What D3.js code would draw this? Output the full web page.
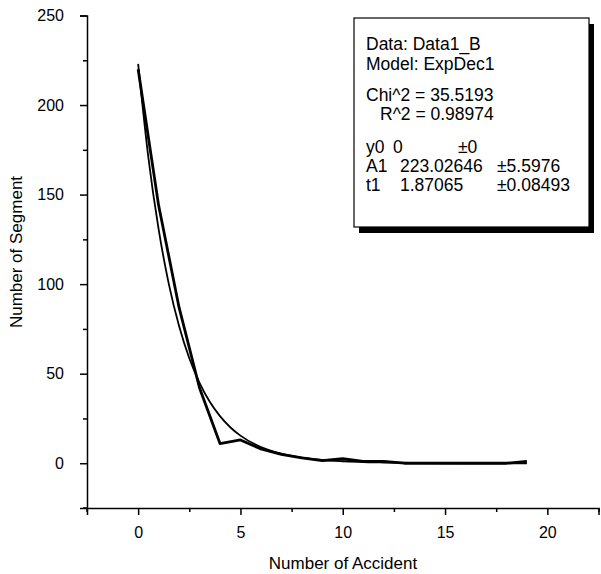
<!DOCTYPE html>
<html>
<head>
<meta charset="utf-8">
<script src="https://cdn.jsdelivr.net/npm/d3@7"></script>
<style>
  html, body { margin: 0; padding: 0; background: #fff; }
  svg { display: block; font-family: "Liberation Sans", Arial, sans-serif; }
</style>
</head>
<body>
<svg id="chart" width="601" height="574"></svg>
<script>
// ---- data ----
const accidents = [0, 1, 2, 3, 4, 5, 6, 7, 8, 9, 10, 11, 12, 13, 14, 15, 16, 17, 18, 19];
const segments  = [220, 144, 87, 42, 11, 13, 8, 5, 3, 1.5, 2.5, 1, 1, 0, 0, 0, 0, 0, 0, 1];

const fitX = [0, 0.5, 1, 1.5, 2, 2.5, 3, 3.5, 4, 4.5, 5, 6, 7, 8, 9, 10, 12, 14, 16, 19];
const fitY = [223.0, 170.7, 130.7, 100.0, 76.6, 58.6, 44.9, 34.3, 26.3, 20.1, 15.4, 9.0, 5.3, 3.1, 1.8, 1.1, 0.4, 0.1, 0.0, 0.0];

const xMajorTicks = [0, 5, 10, 15, 20];
const xMinorTicks = [2.5, 7.5, 12.5, 17.5, 22.5];
const yMajorTicks = [0, 50, 100, 150, 200, 250];
const yMinorTicks = [25, 75, 125, 175, 225];

const legendLines = [
  ["Data: Data1_B"],
  ["Model: ExpDec1"],
  ["Chi^2 = 35.5193"],
  ["R^2 = 0.98974"],
  ["y0", "0", "\u00b10"],
  ["A1", "223.02646", "\u00b15.5976"],
  ["t1", "1.87065", "\u00b10.08493"]
];

const xTitle = "Number of Accident";
const yTitle = "Number of Segment";

// ---- layout ----
const svg = d3.select("#chart");
const x = d3.scaleLinear().domain([-2.5, 22.5]).range([87, 598.5]);
const y = d3.scaleLinear().domain([-25, 250]).range([508, 15.5]);

// axes
const xAxis = svg.append("g").attr("transform", `translate(0,${y(-25)})`)
  .call(d3.axisBottom(x).tickValues(xMajorTicks).tickSize(7).tickPadding(12).tickFormat(d3.format("d")));
const xAxisMinor = svg.append("g").attr("transform", `translate(0,${y(-25)})`)
  .call(d3.axisBottom(x).tickValues(xMinorTicks).tickSize(4).tickFormat(""));
const yAxis = svg.append("g").attr("transform", `translate(${x(-2.5)},0)`)
  .call(d3.axisLeft(y).tickValues(yMajorTicks).tickSize(7).tickPadding(16).tickFormat(d3.format("d")));
const yAxisMinor = svg.append("g").attr("transform", `translate(${x(-2.5)},0)`)
  .call(d3.axisLeft(y).tickValues(yMinorTicks).tickSize(4).tickFormat(""));

[xAxis, xAxisMinor, yAxis, yAxisMinor].forEach(g => {
  g.select(".domain").attr("stroke", "#000").attr("stroke-width", 1.5);
  g.selectAll(".tick line").attr("stroke", "#000").attr("stroke-width", 1.5);
  g.selectAll(".tick text").attr("fill", "#000").attr("font-size", 16)
    .attr("font-family", "'Liberation Sans', Arial, sans-serif");
});
xAxisMinor.select(".domain").remove();
yAxisMinor.select(".domain").remove();
// extend x axis line slightly left of the y axis, y axis slightly below x axis
svg.append("line").attr("x1", x(-2.5) - 4).attr("x2", x(-2.5)).attr("y1", y(-25)).attr("y2", y(-25))
  .attr("stroke", "#000").attr("stroke-width", 1.5);
svg.append("line").attr("x1", x(-2.5)).attr("x2", x(-2.5)).attr("y1", y(-25)).attr("y2", y(-25) + 4)
  .attr("stroke", "#000").attr("stroke-width", 1.5);

// axis titles
svg.append("text").attr("x", 343).attr("y", 569).attr("text-anchor", "middle")
  .attr("font-size", 17).attr("fill", "#000").text(xTitle);
svg.append("text").attr("transform", "translate(22,252) rotate(-90)").attr("text-anchor", "middle")
  .attr("font-size", 17).attr("fill", "#000").text(yTitle);

// fit curve
const fitLine = d3.line().x((d, i) => x(fitX[i])).y(d => y(d)).curve(d3.curveMonotoneX);
svg.append("path").datum(fitY).attr("d", fitLine)
  .attr("fill", "none").attr("stroke", "#000").attr("stroke-width", 1.8);

// data line
const dataLine = d3.line().x((d, i) => x(accidents[i])).y(d => y(d));
svg.append("path").datum(segments).attr("d", dataLine)
  .attr("fill", "none").attr("stroke", "#000").attr("stroke-width", 2.8).attr("stroke-linejoin", "round");

// legend box with shadow
const box = { x: 354, y: 18, w: 235, h: 209 };
svg.append("rect").attr("x", box.x + 5).attr("y", box.y + 6).attr("width", box.w).attr("height", box.h)
  .attr("fill", "#000");
svg.append("rect").attr("x", box.x).attr("y", box.y).attr("width", box.w).attr("height", box.h)
  .attr("fill", "#fff").attr("stroke", "#000").attr("stroke-width", 1.2);

const baselines = [50, 70, 101, 120, 153, 172, 191];
const colX = [366, 400, 497];
legendLines.forEach((parts, i) => {
  if (parts.length === 1) {
    svg.append("text").attr("x", i === 3 ? 380 : 366).attr("y", baselines[i])
      .attr("font-size", 17.5).attr("fill", "#000").text(parts[0]);
  } else {
    const xs = i === 4 ? [366, 393, 458] : colX;
    parts.forEach((p, j) => {
      svg.append("text").attr("x", xs[j]).attr("y", baselines[i])
        .attr("font-size", 17.5).attr("fill", "#000").text(p);
    });
  }
});
</script>
</body>
</html>
